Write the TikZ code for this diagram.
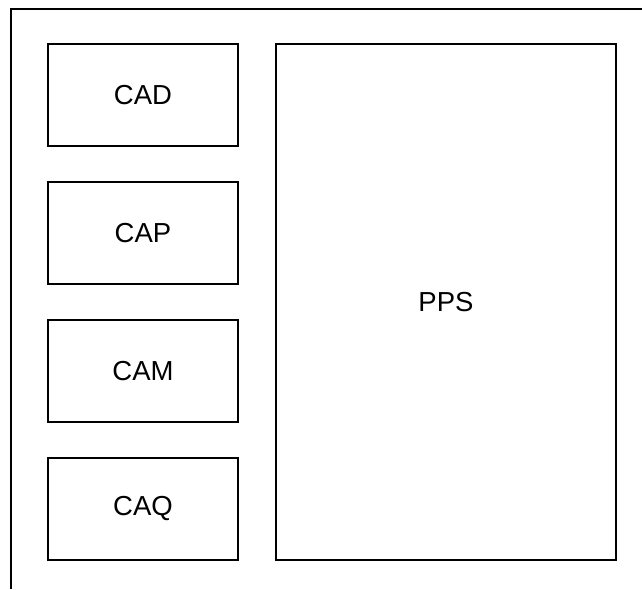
\documentclass[tikz,border=0pt]{standalone}
\usepackage{fontspec}
\setmainfont{Liberation Sans}
\begin{document}
\begin{tikzpicture}[x=1pt,y=-1pt,
  blk/.style={draw=black,line width=2pt,inner sep=0pt,font=\fontsize{27.5}{32}\selectfont}]
\useasboundingbox (0,0) rectangle (642,589);
\coordinate (ftop) at (642,9);
\coordinate (fcorner) at (11,9);
\coordinate (fbot) at (11,589);
\draw[line width=2pt] (ftop) -- (fcorner) -- (fbot);
\node[blk,minimum width=190pt,minimum height=102pt] (cad) at (143,95) {CAD};
\node[blk,minimum width=190pt,minimum height=102pt] (cap) at (143,233) {CAP};
\node[blk,minimum width=190pt,minimum height=102pt] (cam) at (143,371) {CAM};
\node[blk,minimum width=190pt,minimum height=102pt] (caq) at (143,508.5) {CAQ};
\node[blk,minimum width=340pt,minimum height=516pt] (pps) at (446,302) {PPS};
\end{tikzpicture}
\end{document}
